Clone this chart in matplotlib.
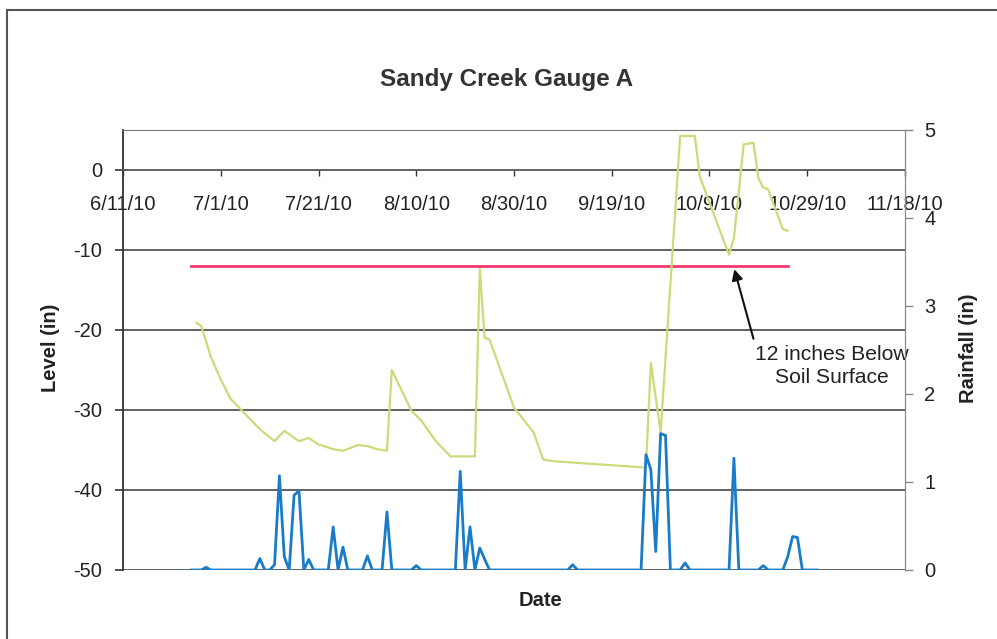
import matplotlib
matplotlib.use("Agg")
import matplotlib.pyplot as plt
import matplotlib.dates as mdates
from matplotlib.lines import Line2D
import pandas as pd

plt.rcParams['font.family'] = ['Liberation Sans', 'DejaVu Sans']
plt.rcParams['axes.unicode_minus'] = False

# ---------------- data ----------------
level_dates = ['2010-06-26', '2010-06-27', '2010-06-29', '2010-07-01', '2010-07-03', '2010-07-06',
               '2010-07-09', '2010-07-12', '2010-07-14', '2010-07-17', '2010-07-19', '2010-07-21',
               '2010-07-24', '2010-07-26', '2010-07-29', '2010-07-31', '2010-08-02', '2010-08-04',
               '2010-08-05', '2010-08-09', '2010-08-11', '2010-08-14', '2010-08-17', '2010-08-22',
               '2010-08-23', '2010-08-24', '2010-08-25', '2010-08-30', '2010-09-03', '2010-09-05',
               '2010-09-07', '2010-09-26', '2010-09-27', '2010-09-29', '2010-10-03', '2010-10-06',
               '2010-10-07', '2010-10-10', '2010-10-13', '2010-10-14', '2010-10-16', '2010-10-18',
               '2010-10-19', '2010-10-20', '2010-10-21', '2010-10-24', '2010-10-25']
level_in = [-19.1, -19.5, -23.4, -26.2, -28.6, -30.5,
            -32.4, -33.9, -32.6, -33.9, -33.5, -34.3,
            -34.9, -35.1, -34.4, -34.5, -34.9, -35.1,
            -25.0, -30.1, -31.3, -33.9, -35.8, -35.8,
            -12.4, -21.0, -21.2, -29.7, -32.8, -36.2,
            -36.4, -37.2, -24.1, -32.8, 4.25, 4.25,
            -0.75, -5.75, -10.6, -8.5, 3.2, 3.4,
            -1.0, -2.2, -2.4, -7.4, -7.6]

rain_dates = ['2010-06-25', '2010-06-27', '2010-06-28', '2010-06-29', '2010-07-08', '2010-07-09',
              '2010-07-10', '2010-07-11', '2010-07-12', '2010-07-13', '2010-07-14', '2010-07-15',
              '2010-07-16', '2010-07-17', '2010-07-18', '2010-07-19', '2010-07-20', '2010-07-23',
              '2010-07-24', '2010-07-25', '2010-07-26', '2010-07-27', '2010-07-30', '2010-07-31',
              '2010-08-01', '2010-08-03', '2010-08-04', '2010-08-05', '2010-08-09', '2010-08-10',
              '2010-08-11', '2010-08-18', '2010-08-19', '2010-08-20', '2010-08-21', '2010-08-22',
              '2010-08-23', '2010-08-24', '2010-08-25', '2010-09-10', '2010-09-11', '2010-09-12',
              '2010-09-25', '2010-09-26', '2010-09-27', '2010-09-28', '2010-09-29', '2010-09-30',
              '2010-10-01', '2010-10-03', '2010-10-04', '2010-10-05', '2010-10-13', '2010-10-14',
              '2010-10-15', '2010-10-19', '2010-10-20', '2010-10-21', '2010-10-24', '2010-10-25',
              '2010-10-26', '2010-10-27', '2010-10-28', '2010-10-31']
rain_in = [0, 0, 0.03, 0, 0, 0.13,
           0, 0, 0.06, 1.07, 0.15, 0,
           0.85, 0.9, 0, 0.12, 0, 0,
           0.49, 0, 0.26, 0, 0, 0.16,
           0, 0, 0.66, 0, 0, 0.05,
           0, 0, 1.12, 0, 0.49, 0,
           0.25, 0.12, 0, 0, 0.06, 0,
           0, 1.31, 1.14, 0.21, 1.55, 1.53,
           0, 0, 0.08, 0, 0, 1.27,
           0, 0, 0.05, 0, 0, 0.15,
           0.38, 0.37, 0, 0]

threshold_dates = ['2010-06-25', '2010-10-25']
threshold_level = [-12, -12]

x_ticks = ['2010-06-11', '2010-07-01', '2010-07-21', '2010-08-10', '2010-08-30',
           '2010-09-19', '2010-10-09', '2010-10-29', '2010-11-18']
level_ticks = [0, -10, -20, -30, -40, -50]
rain_ticks = [0, 1, 2, 3, 4, 5]

# ---------------- figure ----------------
fig = plt.figure(figsize=(9.97, 6.39), dpi=100)
ax = fig.add_axes([0.1234, 0.108, 0.7843, 0.6886])

grid_col = '#555555'
for v in level_ticks[1:]:
    ax.axhline(v, color=grid_col, lw=1.3, zorder=0)

lv_d = pd.to_datetime(level_dates)
rn_d = pd.to_datetime(rain_dates)
th_d = pd.to_datetime(threshold_dates)
xt = pd.to_datetime(x_ticks)

ax.plot(th_d, threshold_level, color='#f2386c', lw=2, zorder=3)
ax.plot(lv_d, level_in, color='#c9dc7a', lw=1.6, zorder=4)

ax.set_xlim(xt[0], xt[-1])
ax.set_ylim(-50, 5)
ax.set_yticks(level_ticks)
ax.set_xticks(xt)
ax.xaxis.set_major_formatter(mdates.DateFormatter('%m/%d/%y'))
ax.set_xticklabels([f"{d.month}/{d.day}/{d.strftime('%y')}" for d in xt])

ax.spines['bottom'].set_position(('data', 0))
ax.spines['bottom'].set_color(grid_col)
ax.spines['bottom'].set_linewidth(1.3)
ax.spines['left'].set_color('#333333')
ax.spines['left'].set_linewidth(1.3)
ax.spines['top'].set_color('#777777')
ax.spines['right'].set_color('#888888')
ax.tick_params(axis='x', direction='out', length=4, width=1, colors='#333333',
               labelsize=14.5, pad=14, labelcolor='#222222')
ax.tick_params(axis='y', direction='out', length=6, width=1.2, colors='#333333',
               labelsize=14.5, pad=9, labelcolor='#222222')

ax2 = ax.twinx()
ax2.plot(rn_d, rain_in, color='#1a7cc6', lw=2, zorder=5)
ax2.set_ylim(0, 5)
ax2.set_yticks(rain_ticks)
ax2.tick_params(axis='y', direction='out', length=6, width=1, colors='#888888',
                labelsize=14.5, pad=8, labelcolor='#222222')
for s in ['top', 'left', 'bottom']:
    ax2.spines[s].set_visible(False)
ax2.spines['right'].set_color('#888888')

# annotation
ax.annotate('', xy=(pd.Timestamp('2010-10-14 02:00'), -12.4),
            xytext=(pd.Timestamp('2010-10-18'), -21.1),
            arrowprops=dict(arrowstyle='-|>', color='#111111', lw=1.5,
                            mutation_scale=16, shrinkA=0, shrinkB=0), zorder=6)
ax.text(pd.Timestamp('2010-11-03'), -21.9, '12 inches Below\nSoil Surface',
        ha='center', va='top', fontsize=15.2, color='#222222', linespacing=1.25,
        multialignment='center', zorder=6)

# labels
fig.text(0.508, 0.876, 'Sandy Creek Gauge A', ha='center', va='center',
         fontsize=17.5, fontweight='bold', color='#333333')
fig.text(0.051, 0.455, 'Level (in)', rotation=90, ha='center', va='center',
         fontsize=14.5, fontweight='bold', color='#222222')
fig.text(0.971, 0.455, 'Rainfall (in)', rotation=90, ha='center', va='center',
         fontsize=14.5, fontweight='bold', color='#222222')
fig.text(0.542, 0.060, 'Date', ha='center', va='center',
         fontsize=14.5, fontweight='bold', color='#222222')

# outer frame
fig.add_artist(Line2D([0.007, 0.007], [0.0, 0.984], transform=fig.transFigure,
                      color='#555555', lw=1.5))
fig.add_artist(Line2D([0.007, 1.0], [0.984, 0.984], transform=fig.transFigure,
                      color='#555555', lw=1.5))

fig.savefig('out.png', dpi=100)
